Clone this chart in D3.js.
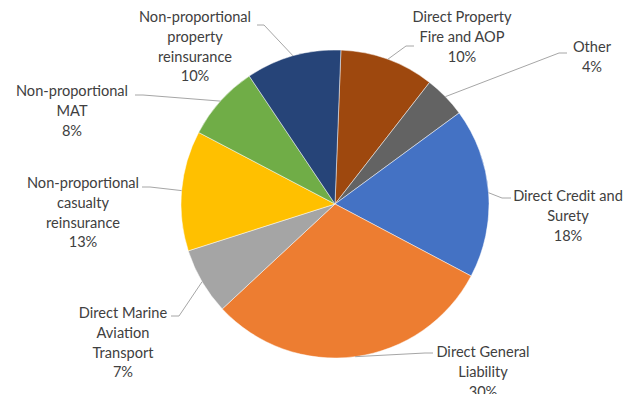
<!DOCTYPE html>
<html>
<head>
<meta charset="utf-8">
<script src="https://cdn.jsdelivr.net/npm/d3@7"></script>
<style>
  body { margin: 0; background: #fff; }
  #pieChart { width: 633px; height: 394px; }
</style>
</head>
<body>
<div id="pieChart"></div>
<script>
// slices, clockwise from just right of 12 o'clock
const categories = [
    "Direct Property Fire and AOP",
    "Other",
    "Direct Credit and Surety",
    "Direct General Liability",
    "Direct Marine Aviation Transport",
    "Non-proportional casualty reinsurance",
    "Non-proportional MAT",
    "Non-proportional property reinsurance"
];
const shares = [9.9, 4.4, 17.8, 30.3, 7.0, 12.6, 7.9, 10.0];
const percentLabels = ["10%", "4%", "18%", "30%", "7%", "13%", "8%", "10%"];
const labelLines = [
    ["Direct Property", "Fire and AOP"],
    ["Other"],
    ["Direct Credit and", "Surety"],
    ["Direct General", "Liability"],
    ["Direct Marine", "Aviation", "Transport"],
    ["Non-proportional", "casualty", "reinsurance"],
    ["Non-proportional", "MAT"],
    ["Non-proportional", "property", "reinsurance"]
];
const colors = ["#9E480E", "#636363", "#4472C4", "#ED7D31", "#A5A5A5", "#FFC000", "#70AD47", "#264478"];

// label layout: text centre x, first baseline y, leader start [x, y]
const labelLayout = [
    { x: 462, y: 22, lead: [[414, 46], [406, 46]] },
    { x: 592, y: 52, lead: [[567, 53], [559, 53]] },
    { x: 568, y: 201, lead: [[511, 198], [502, 198]] },
    { x: 483, y: 357, lead: [[433, 353], [425, 353]] },
    { x: 123, y: 318, lead: [[171, 316], [179, 316]] },
    { x: 83, y: 188, lead: [[142, 187], [150, 187]] },
    { x: 72, y: 96, lead: [[135, 95], [143, 95]] },
    { x: 195, y: 22, lead: [[257, 25], [264, 25]] }
];

function renderChart() {
    const container = d3.select("#pieChart");
    container.html("");

    const width = 633, height = 394;
    const cx = 335, cy = 204, radius = 154;
    const offset = 2.2 * Math.PI / 180;

    const svg = container.append("svg")
        .attr("width", width)
        .attr("height", height);

    const data = categories.map((c, i) => ({ name: c, value: shares[i], i }));

    const pie = d3.pie()
        .sort(null)
        .value(d => d.value)
        .startAngle(offset)
        .endAngle(offset + 2 * Math.PI);

    const arc = d3.arc().innerRadius(0).outerRadius(radius);
    const arcs = pie(data);

    const g = svg.append("g").attr("transform", `translate(${cx},${cy})`);

    g.selectAll("path")
        .data(arcs)
        .enter().append("path")
        .attr("d", arc)
        .attr("fill", d => colors[d.data.i])
        .attr("stroke", "#ffffff")
        .attr("stroke-opacity", 0.6)
        .attr("stroke-width", 0.8);

    // Leader lines
    const line = d3.line();
    svg.selectAll(".leader")
        .data(arcs)
        .enter().append("path")
        .attr("class", "leader")
        .attr("fill", "none")
        .attr("stroke", "#a6a6a6")
        .attr("stroke-width", 1)
        .attr("d", d => {
            const mid = (d.startAngle + d.endAngle) / 2;
            const edge = [cx + radius * Math.sin(mid), cy - radius * Math.cos(mid)];
            return line([...labelLayout[d.data.i].lead, edge]);
        });

    // Labels
    const labels = svg.selectAll(".lbl")
        .data(data)
        .enter().append("text")
        .attr("class", "lbl")
        .attr("text-anchor", "middle")
        .style("font-family", "Lato, 'Open Sans', sans-serif")
        .style("font-size", "14.6px")
        .attr("fill", "#404040");

    labels.each(function (d) {
        const t = d3.select(this);
        const pos = labelLayout[d.i];
        const lines = [...labelLines[d.i], percentLabels[d.i]];
        lines.forEach((txt, k) => {
            t.append("tspan")
                .attr("x", pos.x)
                .attr("y", pos.y + k * 19.8)
                .text(txt);
        });
    });
}

renderChart();
</script>
</body>
</html>
